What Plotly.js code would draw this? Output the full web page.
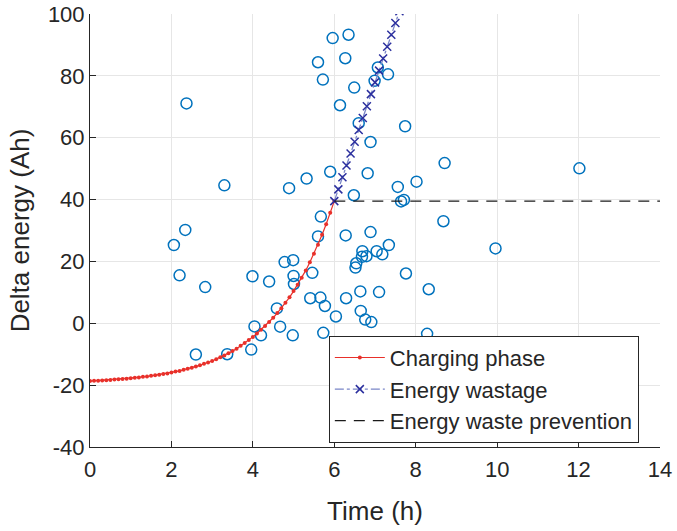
<!DOCTYPE html>
<html>
<head>
<meta charset="utf-8">
<script src="https://cdn.plot.ly/plotly-3.0.1.min.js"></script>
<style>html,body{margin:0;padding:0;background:#fff;}#chart{width:677px;height:531px;}</style>
</head>
<body>
<div id="chart"></div>
<script>
// Scattered measurements (circles)
const scatterX = [2.06,2.20,2.34,2.37,2.60,2.83,3.30,3.37,3.96,3.99,4.04,4.20,4.40,4.59,4.67,4.78,4.89,4.98,4.99,5.00,5.01,5.32,5.41,5.46,5.60,5.60,5.66,5.67,5.72,5.73,5.77,5.90,5.96,6.04,6.14,6.27,6.28,6.29,6.35,6.48,6.49,6.52,6.54,6.60,6.64,6.65,6.68,6.69,6.76,6.79,6.82,6.89,6.89,6.91,6.99,7.04,7.07,7.10,7.18,7.32,7.34,7.56,7.64,7.71,7.74,7.76,8.02,8.28,8.32,8.68,8.71,9.96,12.02];
const scatterY = [25.3,15.5,30.2,71.1,-10.1,11.7,44.6,-10.0,-8.5,15.2,-1.0,-3.9,13.5,4.8,-1.1,19.8,43.7,-3.9,20.4,15.3,12.7,46.8,8.1,16.3,84.4,28.1,8.3,34.5,78.8,-3.1,5.6,49.0,92.2,2.2,70.5,85.7,28.4,8.1,93.3,41.4,76.2,18.0,19.4,64.7,10.3,4.0,21.5,23.3,1.2,21.7,48.5,58.6,29.5,0.4,78.4,23.3,82.7,10.1,22.3,80.5,25.3,44.1,39.4,39.9,63.7,16.1,45.8,-3.4,11.0,33.0,51.8,24.2,50.1];

// Charging phase
const chargeX = [0,0.1,0.2,0.3,0.4,0.5,0.6,0.7,0.8,0.9,1.0,1.1,1.2,1.3,1.4,1.5,1.6,1.7,1.8,1.9,2.0,2.1,2.2,2.3,2.4,2.5,2.6,2.7,2.8,2.9,3.0,3.1,3.2,3.3,3.4,3.5,3.6,3.7,3.8,3.9,4.0,4.1,4.2,4.3,4.4,4.5,4.6,4.7,4.8,4.9,5.0,5.1,5.2,5.3,5.4,5.5,5.6,5.7,5.8,5.9,6.0];
const chargeY = [-18.7,-18.6,-18.6,-18.5,-18.4,-18.3,-18.2,-18.1,-18.0,-17.9,-17.8,-17.6,-17.5,-17.3,-17.2,-17.0,-16.8,-16.6,-16.4,-16.2,-15.9,-15.6,-15.4,-15.0,-14.7,-14.4,-14.0,-13.6,-13.1,-12.7,-12.2,-11.6,-11.0,-10.4,-9.7,-9.0,-8.2,-7.3,-6.4,-5.4,-4.4,-3.3,-2.1,-0.9,0.4,1.8,3.3,4.9,6.6,8.4,10.4,12.5,14.7,17.1,19.7,22.5,25.4,28.6,32.0,35.7,39.5];

// Energy wastage
const wasteX = [6.0,6.1,6.2,6.3,6.4,6.5,6.6,6.7,6.8,6.9,7.0,7.1,7.2,7.3,7.4,7.5,7.6];
const wasteY = [39.5,43.3,47.2,51.0,54.9,58.7,62.5,66.4,70.2,74.1,77.9,81.7,85.6,89.4,93.3,97.1,100.9];

// Energy waste prevention
const prevX = [6,14];
const prevY = [39.5,39.5];

const seriesNames = ['Charging phase','Energy wastage','Energy waste prevention'];
const xTicks = [0,2,4,6,8,10,12,14];
const yTicks = [-40,-20,0,20,40,60,80,100];

const FONT = '"Liberation Sans", Arial, Helvetica, sans-serif';
const TXT = '#262626';

const traces = [
  {x: scatterX, y: scatterY, type: 'scatter', mode: 'markers', showlegend: false,
   marker: {symbol: 'circle-open', size: 11, color: '#0072BD', line: {width: 1.5, color: '#0072BD'}}},
  {x: chargeX, y: chargeY, type: 'scatter', mode: 'lines+markers', name: seriesNames[0],
   line: {color: '#e8302a', width: 1.2}, marker: {symbol: 'circle', size: 4, color: '#e8302a'}},
  {x: wasteX, y: wasteY, type: 'scatter', mode: 'lines+markers', name: seriesNames[1],
   line: {color: '#7a86c8', width: 1.3, dash: 'dashdot'},
   marker: {symbol: 'x-thin', size: 8, color: '#2b2f9e', line: {width: 1.5, color: '#2b2f9e'}}},
  {x: prevX, y: prevY, type: 'scatter', mode: 'lines', name: seriesNames[2],
   line: {color: '#1a1a1a', width: 1.2, dash: '11px,8px'}}
];

const axisCommon = {
  showgrid: true, gridcolor: '#e6e6e6', gridwidth: 1, zeroline: false,
  showline: true, linecolor: TXT, linewidth: 1, mirror: false,
  ticks: 'inside', ticklen: 6, tickcolor: TXT, tickwidth: 1,
  tickfont: {family: FONT, size: 22, color: TXT}
};

const layout = {
  width: 677, height: 531,
  margin: {l: 90, r: 17, t: 14, b: 84},
  paper_bgcolor: '#ffffff', plot_bgcolor: '#ffffff',
  font: {family: FONT, color: TXT},
  xaxis: Object.assign({}, axisCommon, {
    range: [0, 14], tickvals: xTicks, ticktext: xTicks.map(String),
    ticklabelstandoff: 3,
    title: {text: 'Time (h)', font: {family: FONT, size: 26, color: TXT}, standoff: 20}
  }),
  yaxis: Object.assign({}, axisCommon, {
    range: [-40, 100], tickvals: yTicks, ticktext: yTicks.map(String),
    title: {text: 'Delta energy (Ah)', font: {family: FONT, size: 26, color: TXT}, standoff: 10}
  }),
  legend: {
    x: 0.419, y: 0.257, xanchor: 'left', yanchor: 'top',
    bgcolor: '#ffffff', bordercolor: TXT, borderwidth: 1,
    font: {family: FONT, size: 22, color: TXT},
    itemwidth: 50, tracegroupgap: 0
  },
  showlegend: true
};

Plotly.newPlot('chart', traces, layout, {staticPlot: true, displayModeBar: false});
</script>
</body>
</html>
